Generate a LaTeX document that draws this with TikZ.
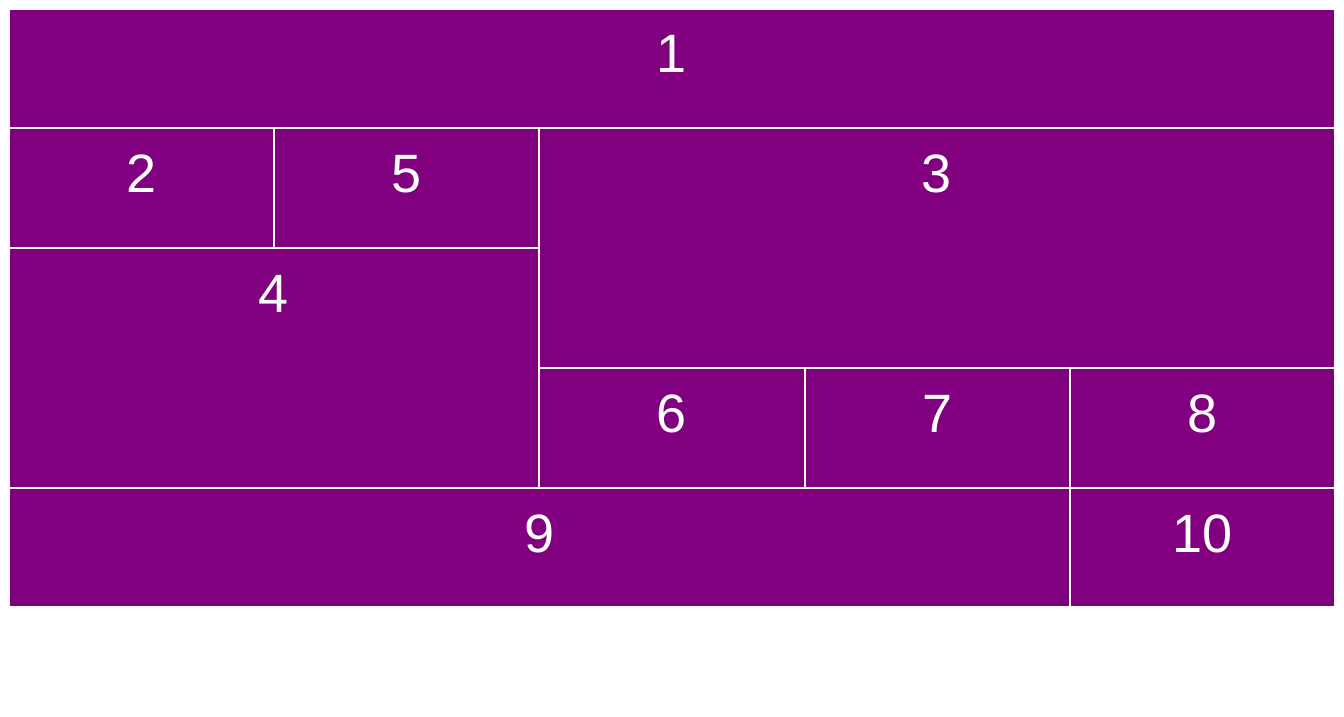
\documentclass[tikz,border=0pt]{standalone}
\usepackage{fontspec}
\setmainfont{Liberation Sans}
\definecolor{cellpurple}{HTML}{800080}
\tikzset{
  cell/.style={draw=white, fill=cellpurple, line width=2pt, inner sep=0pt, outer sep=0pt, rectangle},
  lbl/.style={text=white, anchor=base, inner sep=0pt, font=\fontsize{54}{60}\selectfont}
}
\newcommand\mycell[6]{%
  \node[cell, minimum width={#4-#2}, minimum height={#5-#3}] (#1) at ({(#2+#4)/2},{(#3+#5)/2}) {};
  \node[lbl] (#1l) at ({(#2+#4)/2},{#3+64}) {#6};
}
\begin{document}
\begin{tikzpicture}[x=1pt,y=-1pt]
\useasboundingbox[fill=white] (0,0) rectangle (1344,717);
\mycell{c1}{9}{9}{1335}{128}{1}
\mycell{c2}{9}{128}{274}{248}{2}
\mycell{c5}{274}{128}{539}{248}{5}
\mycell{c3}{539}{128}{1335}{368}{3}
\mycell{c4}{9}{248}{539}{488}{4}
\mycell{c6}{539}{368}{805}{488}{6}
\mycell{c7}{805}{368}{1070}{488}{7}
\mycell{c8}{1070}{368}{1335}{488}{8}
\mycell{c9}{9}{488}{1070}{607}{9}
\mycell{c10}{1070}{488}{1335}{607}{10}
\end{tikzpicture}
\end{document}
